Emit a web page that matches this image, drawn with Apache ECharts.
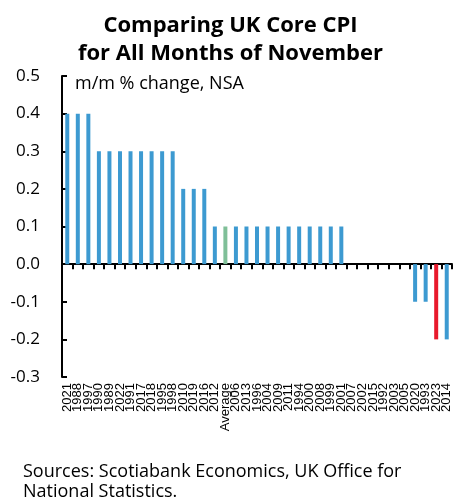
<!DOCTYPE html>
<html>
<head>
<meta charset="utf-8">
<script src="https://cdn.jsdelivr.net/npm/echarts@6/dist/echarts.min.js"></script>
<style>
  html, body { margin: 0; padding: 0; background: #fff; }
  #chart { width: 461px; height: 503px; }
</style>
</head>
<body>
<div id="chart"></div>
<script>
// November core CPI, m/m % change (NSA), sorted from highest to lowest
const categories = [
  '2021', '1988', '1997', '1990', '1989', '2022', '1991', '2017', '2018', '1995',
  '1998', '2010', '2019', '2016', '2012', 'Average', '2006', '2013', '1996', '2004',
  '2009', '2011', '1994', '2000', '2008', '1999', '2001', '2007', '2002', '2015',
  '1992', '2003', '2005', '2020', '1993', '2023', '2014'
];
const values = [
  0.4, 0.4, 0.4, 0.3, 0.3, 0.3, 0.3, 0.3, 0.3, 0.3,
  0.3, 0.2, 0.2, 0.2, 0.1, 0.1, 0.1, 0.1, 0.1, 0.1,
  0.1, 0.1, 0.1, 0.1, 0.1, 0.1, 0.1, 0.0, 0.0, 0.0,
  0.0, 0.0, 0.0, -0.1, -0.1, -0.2, -0.2
];
const yTicks = { min: -0.3, max: 0.5, step: 0.1 };

const BLUE = '#3d9ad1';
const GREEN = '#7fbf98';
const RED = '#e8192c';
const FONT = 'Open Sans';

function barColor(cat) {
  if (cat === 'Average') return GREEN;
  if (cat === '2023') return RED;
  return BLUE;
}

const chart = echarts.init(document.getElementById('chart'), null, { renderer: 'canvas' });

chart.setOption({
  animation: false,
  backgroundColor: '#fff',
  title: {
    text: 'Comparing UK Core CPI\nfor All Months of November',
    left: 'center',
    top: 7,
    textStyle: {
      fontFamily: FONT,
      fontWeight: 'bold',
      fontSize: 22,
      lineHeight: 28,
      color: '#000'
    }
  },
  graphic: [
    {
      type: 'text',
      left: 75,
      top: 75,
      style: {
        text: 'm/m % change, NSA',
        font: '18px "Open Sans"',
        fill: '#000'
      }
    },
    {
      type: 'text',
      left: 23,
      top: 462,
      style: {
        text: 'Sources: Scotiabank Economics, UK Office for\nNational Statistics.',
        font: '18px "Open Sans"',
        lineHeight: 20,
        fill: '#000'
      }
    }
  ],
  grid: { left: 62, right: 9, top: 76, bottom: 126, containLabel: false },
  xAxis: [
    {
      // axis line and ticks on the zero line
      type: 'category',
      data: categories,
      position: 'bottom',
      axisLine: { show: true, onZero: true, lineStyle: { color: '#000', width: 2 } },
      axisTick: { show: true, interval: 0, length: 5, lineStyle: { color: '#000', width: 2 } },
      axisLabel: { show: false },
      splitLine: { show: false }
    },
    {
      // category labels along the bottom edge
      type: 'category',
      data: categories,
      position: 'bottom',
      axisLine: { show: false, onZero: false },
      axisTick: { show: false },
      axisLabel: {
        show: true,
        interval: 0,
        rotate: 90,
        margin: 6,
        fontFamily: 'Liberation Sans',
        fontSize: 13,
        color: '#000'
      },
      splitLine: { show: false }
    }
  ],
  yAxis: {
    type: 'value',
    min: yTicks.min,
    max: yTicks.max,
    interval: yTicks.step,
    axisLine: { show: true, lineStyle: { color: '#000', width: 2 } },
    axisTick: { show: true, inside: true, length: 5, lineStyle: { color: '#000', width: 2 } },
    axisLabel: {
      margin: 22,
      fontFamily: FONT,
      fontSize: 17,
      color: '#000',
      formatter: v => v.toFixed(1)
    },
    splitLine: { show: false }
  },
  series: [
    {
      type: 'bar',
      xAxisIndex: 0,
      barWidth: 4,
      data: values.map((v, i) => ({ value: v, itemStyle: { color: barColor(categories[i]) } }))
    }
  ]
});
</script>
</body>
</html>
